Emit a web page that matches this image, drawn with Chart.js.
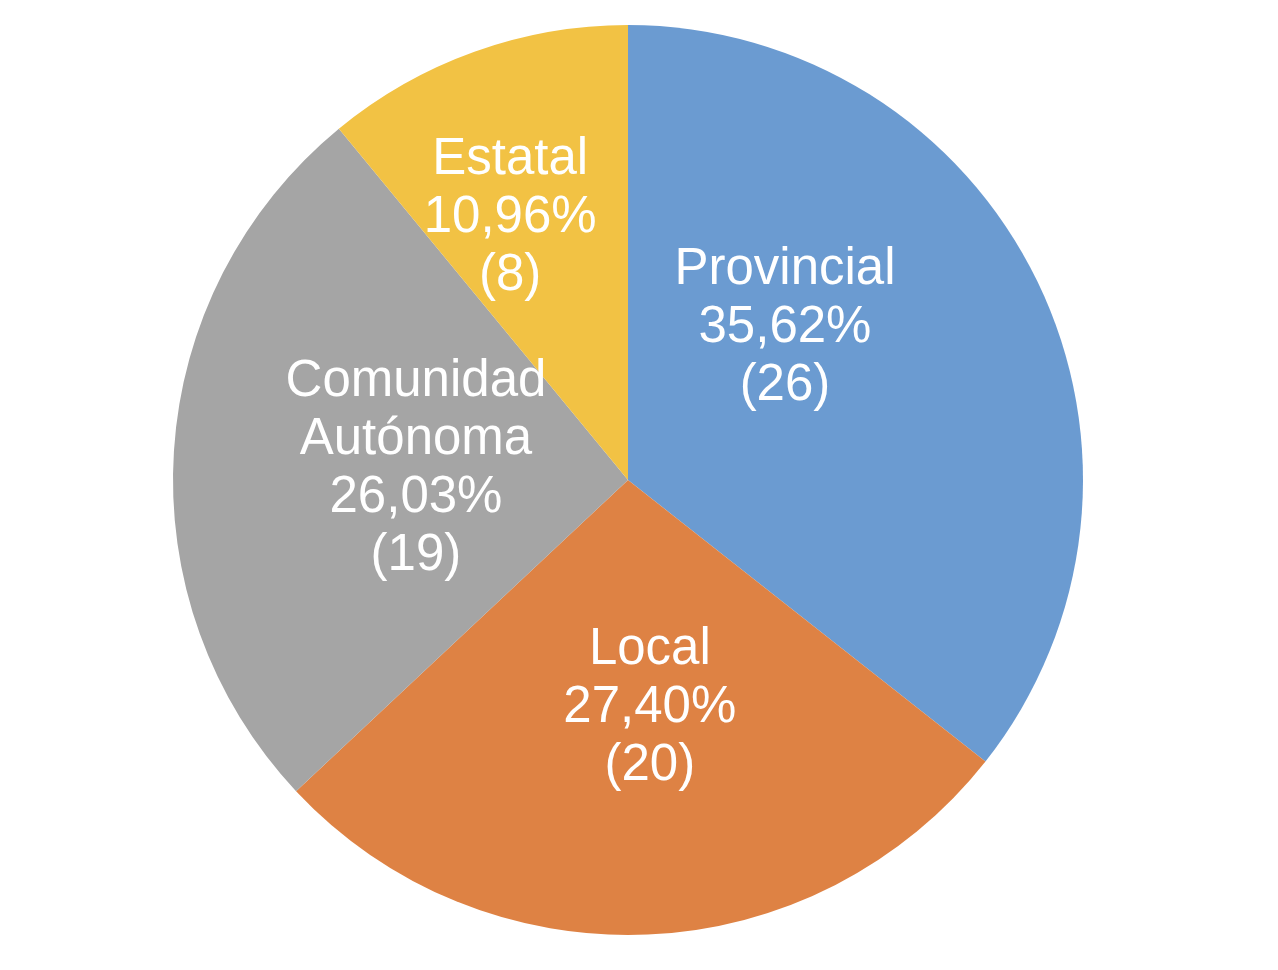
<!DOCTYPE html>
<html lang="es">
<head>
  <meta charset="UTF-8" />
  <title>Distribución por administración</title>
  <script src="https://cdn.jsdelivr.net/npm/chart.js"></script>
  <style>
    html, body {
      margin: 0;
      padding: 0;
      background: #fff;
    }
    #contenedor {
      width: 1278px;
      height: 970px;
    }
  </style>
</head>
<body>
  <div id="contenedor">
    <canvas id="grafica"></canvas>
  </div>

  <script>
    const categorias = ['Provincial', 'Local', 'Comunidad Autónoma', 'Estatal'];
    const valores = [26, 20, 19, 8];
    const porcentajes = ['35,62%', '27,40%', '26,03%', '10,96%'];
    const colores = ['#6b9bd1', '#de8244', '#a5a5a5', '#f2c244'];

    // posicion de cada etiqueta como fraccion del radio (x, y) desde el centro
    const posEtiquetas = [[0.345, -0.334], [0.048, 0.501], [-0.466, -0.025], [-0.259, -0.576]];
    // lineas de cada etiqueta
    const lineasEtiqueta = [['Provincial'], ['Local'], ['Comunidad', 'Autónoma'], ['Estatal']];

    const etiquetasPlugin = {
      id: 'etiquetas',
      afterDatasetsDraw(chart) {
        const ctx = chart.ctx;
        const meta = chart.getDatasetMeta(0);
        ctx.save();
        ctx.fillStyle = '#ffffff';
        ctx.font = '51px "Liberation Sans", Arial, sans-serif';
        ctx.textAlign = 'center';
        ctx.textBaseline = 'middle';
        const altoLinea = 58;
        meta.data.forEach((arco, i) => {
          const p = arco.getProps(['x', 'y', 'outerRadius'], true);
          const cx = p.x + posEtiquetas[i][0] * p.outerRadius;
          const cy = p.y + posEtiquetas[i][1] * p.outerRadius;
          const lineas = lineasEtiqueta[i].concat([porcentajes[i], '(' + valores[i] + ')']);
          const y0 = cy - (lineas.length - 1) * altoLinea / 2;
          lineas.forEach((t, j) => ctx.fillText(t, cx, y0 + j * altoLinea));
        });
        ctx.restore();
      }
    };

    new Chart(document.getElementById('grafica'), {
      type: 'pie',
      data: {
        labels: categorias,
        datasets: [{
          data: valores,
          backgroundColor: colores,
          borderWidth: 0
        }]
      },
      options: {
        responsive: true,
        maintainAspectRatio: false,
        animation: false,
        layout: { padding: { top: 25, bottom: 35, left: 0, right: 22 } },
        plugins: {
          legend: { display: false },
          tooltip: { enabled: false }
        }
      },
      plugins: [etiquetasPlugin]
    });
  </script>
</body>
</html>
